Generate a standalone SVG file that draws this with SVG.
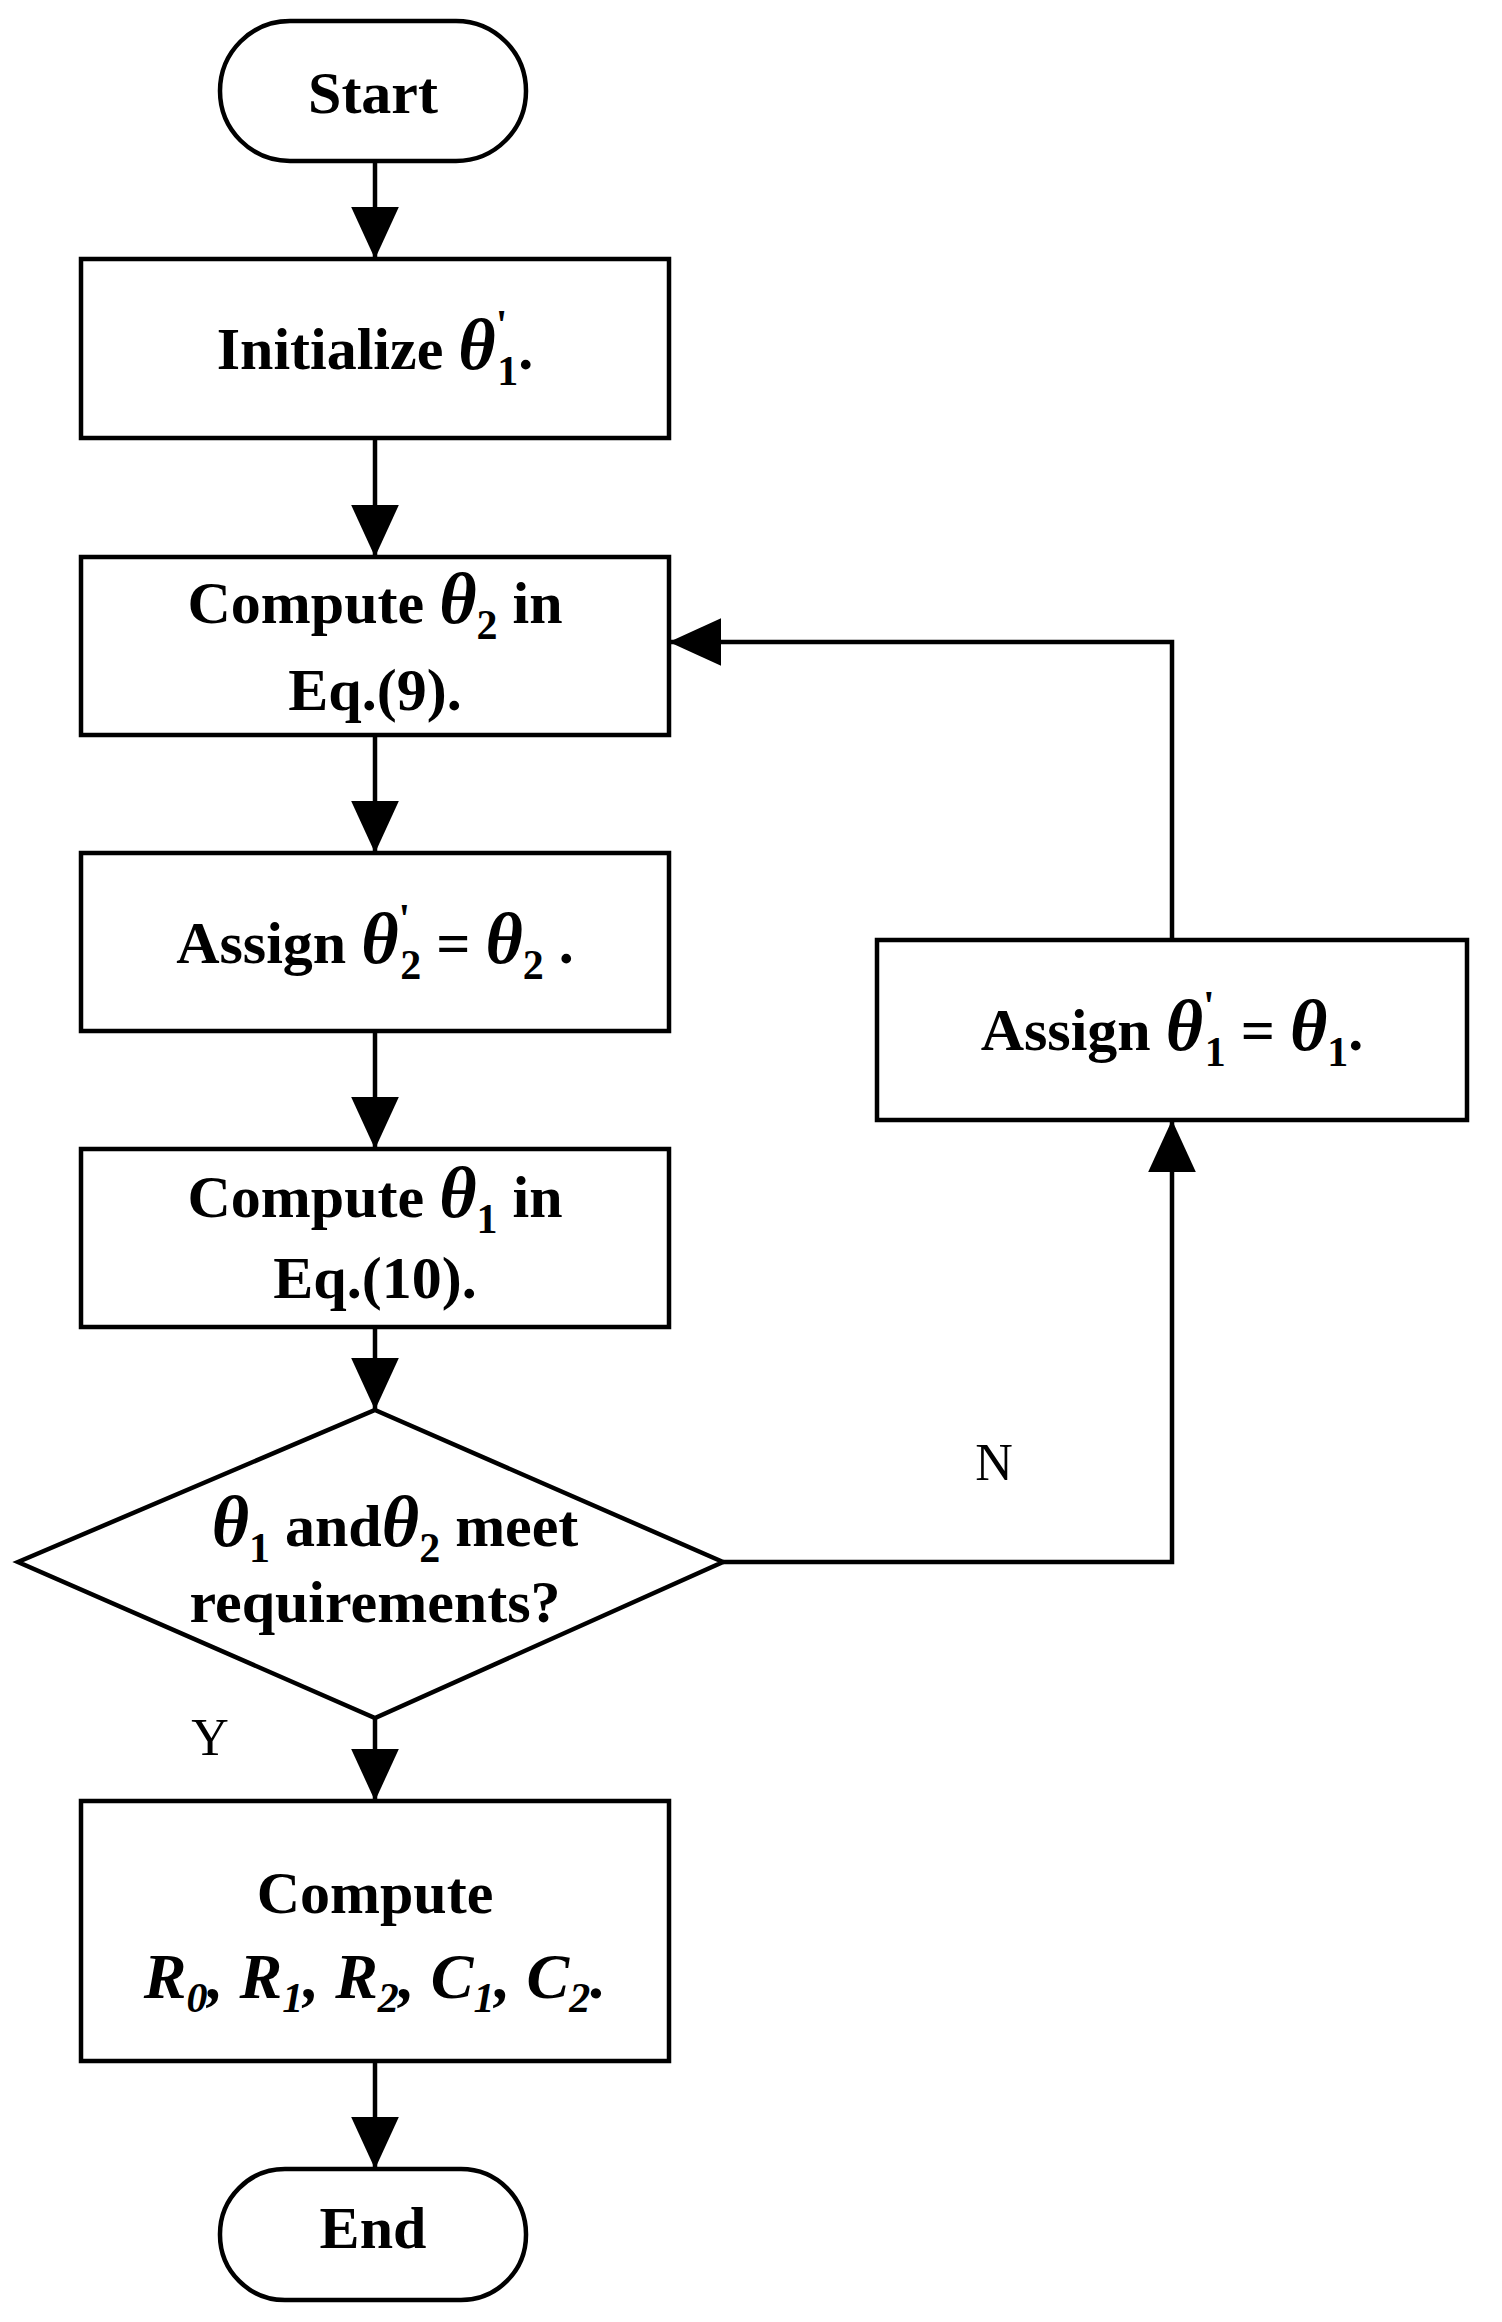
<svg xmlns="http://www.w3.org/2000/svg" width="1502" height="2322" viewBox="0 0 1502 2322">
<style>
.s{fill:#fff;stroke:#000;stroke-width:4.5}
.c{fill:none;stroke:#000;stroke-width:4.5}
.t{font-family:"Liberation Serif",serif;font-weight:bold;font-size:60px;text-anchor:middle;fill:#000}
.th{font-style:italic;font-size:72px}
.sb{font-size:42px}
.it{font-style:italic;font-size:64px}
.l{font-family:"Liberation Serif",serif;font-size:52px;fill:#000;text-anchor:middle}
</style>
<defs>
<marker id="b" viewBox="0 0 12 12" refX="12" refY="6" markerWidth="52" markerHeight="52" markerUnits="userSpaceOnUse" orient="auto"><path d="M0,0.5L12,6L0,11.5Z"/></marker>
</defs>
<g id="connectors">
<path class="c" d="M375,163V259" marker-end="url(#b)"/>
<path class="c" d="M375,438V557" marker-end="url(#b)"/>
<path class="c" d="M375,735V853" marker-end="url(#b)"/>
<path class="c" d="M375,1031V1149" marker-end="url(#b)"/>
<path class="c" d="M375,1327V1410" marker-end="url(#b)"/>
<path class="c" d="M375,1718V1801" marker-end="url(#b)"/>
<path class="c" d="M375,2061V2169" marker-end="url(#b)"/>
<path class="c" d="M723,1562H1172V1120" marker-end="url(#b)"/>
<path class="c" d="M1172,940V642H669" marker-end="url(#b)"/>
<text class="l" x="994" y="1480">N</text>
<text class="l" x="210" y="1755">Y</text>
</g>
<g id="start"><rect class="s" x="220" y="21" width="306" height="140" rx="70"/><text class="t" x="373" y="113">Start</text></g>
<g id="init"><rect class="s" x="81" y="259" width="588" height="179"/><text class="t" x="375" y="369">Initialize <tspan class="th">θ</tspan><tspan class="sb" dy="-30">'</tspan><tspan class="sb" dx="-10" dy="46">1</tspan><tspan dy="-16">.</tspan></text></g>
<g id="comp2"><rect class="s" x="81" y="557" width="588" height="178"/><text class="t" x="375" y="623">Compute <tspan class="th">θ</tspan><tspan class="sb" dy="16">2</tspan><tspan dy="-16"> in</tspan></text><text class="t" x="375" y="710">Eq.(9).</text></g>
<g id="assign2"><rect class="s" x="81" y="853" width="588" height="178"/><text class="t" x="375" y="963">Assign  <tspan class="th">θ</tspan><tspan class="sb" dy="-30">'</tspan><tspan class="sb" dx="-10" dy="46">2</tspan><tspan dy="-16"> = </tspan><tspan class="th">θ</tspan><tspan class="sb" dy="16">2</tspan><tspan dy="-16">  .</tspan></text></g>
<g id="comp1"><rect class="s" x="81" y="1149" width="588" height="178"/><text class="t" x="375" y="1217">Compute <tspan class="th">θ</tspan><tspan class="sb" dy="16">1</tspan><tspan dy="-16">  in</tspan></text><text class="t" x="375" y="1298">Eq.(10).</text></g>
<g id="check"><path class="s" d="M375,1410L723,1562L375,1718L18,1562Z"/><text class="t" x="395" y="1546"><tspan class="th">θ</tspan><tspan class="sb" dy="16">1</tspan><tspan dy="-16"> and</tspan><tspan class="th">θ</tspan><tspan class="sb" dy="16">2</tspan><tspan dy="-16"> meet</tspan></text><text class="t" x="375" y="1622">requirements?</text></g>
<g id="compR"><rect class="s" x="81" y="1801" width="588" height="260"/><text class="t" x="375" y="1913">Compute</text><text class="t it" x="375" y="1998">R<tspan class="sb" dy="14">0</tspan><tspan dy="-14">, R</tspan><tspan class="sb" dy="14">1</tspan><tspan dy="-14">, R</tspan><tspan class="sb" dy="14">2</tspan><tspan dy="-14">, C</tspan><tspan class="sb" dy="14">1</tspan><tspan dy="-14">, C</tspan><tspan class="sb" dy="14">2</tspan><tspan dy="-14">.</tspan></text></g>
<g id="end"><rect class="s" x="220" y="2169" width="306" height="131" rx="65"/><text class="t" x="373" y="2248">End</text></g>
<g id="assign1"><rect class="s" x="877" y="940" width="590" height="180"/><text class="t" x="1172" y="1050">Assign  <tspan class="th">θ</tspan><tspan class="sb" dy="-30">'</tspan><tspan class="sb" dx="-10" dy="46">1</tspan><tspan dy="-16"> = </tspan><tspan class="th">θ</tspan><tspan class="sb" dy="16">1</tspan><tspan dy="-16">.</tspan></text></g>
</svg>
